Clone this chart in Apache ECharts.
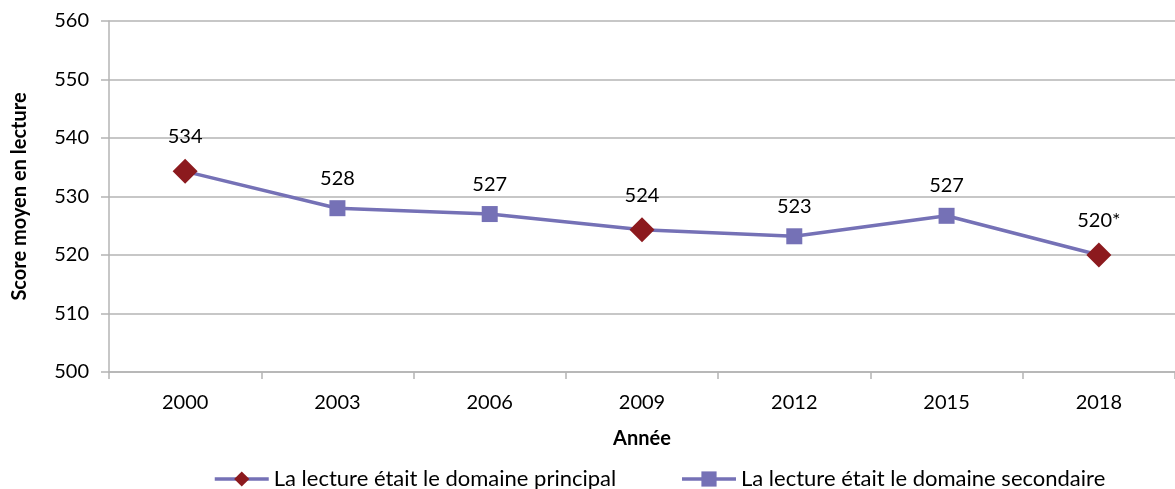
<!DOCTYPE html>
<html><head><meta charset="utf-8">
<script src="https://cdn.jsdelivr.net/npm/echarts@6/dist/echarts.min.js"></script>
<style>html,body{margin:0;padding:0;background:#fff}#c{width:1175px;height:489px}</style>
</head><body><div id="c"></div>
<script>
const years = ['2000','2003','2006','2009','2012','2015','2018'];
const scores = [534.3, 528.0, 527.0, 524.3, 523.2, 526.7, 520.0];
const labels = ['534','528','527','524','523','527','520*'];
const isPrincipal = [true, false, false, true, false, false, true];
const yTicks = [500, 510, 520, 530, 540, 550, 560];
const seriesNames = ['La lecture était le domaine principal', 'La lecture était le domaine secondaire'];

const FONT = 'Lato';
const PURPLE = '#7571B6';
const RED = '#8C1A1E';

const principalData = scores.map((v, i) => isPrincipal[i] ? v : '-');
const secondaryData = scores.map((v, i) => isPrincipal[i]
  ? { value: v, symbol: 'none', label: { show: false } }
  : v);

const chart = echarts.init(document.getElementById('c'), null, { renderer: 'canvas' });
chart.setOption({
  animation: false,
  textStyle: { fontFamily: FONT },
  grid: { left: 109, right: 0, top: 21, bottom: 117 },
  legend: {
    top: 463,
    left: 208,
    itemWidth: 54,
    itemHeight: 19,
    itemGap: 64,
    textStyle: { fontFamily: FONT, fontSize: 22, color: '#000' },
    data: [
      { name: seriesNames[0], lineStyle: { width: 3.5, color: PURPLE } },
      { name: seriesNames[1], lineStyle: { width: 3.5, color: PURPLE } }
    ]
  },
  xAxis: {
    type: 'category',
    data: years,
    boundaryGap: true,
    name: 'Année',
    nameLocation: 'middle',
    nameGap: 57,
    nameTextStyle: { fontFamily: FONT, fontSize: 20, fontWeight: 'bold', color: '#000' },
    axisLine: { lineStyle: { color: '#B4B4B4', width: 1.5 } },
    axisTick: { show: true, length: 7, lineStyle: { color: '#B4B4B4', width: 1.5 } },
    axisLabel: { fontFamily: FONT, fontSize: 20, color: '#000', margin: 21 }
  },
  yAxis: {
    type: 'value',
    min: 500, max: 560, interval: 10,
    name: 'Score moyen en lecture',
    nameLocation: 'middle',
    nameRotate: 90,
    nameGap: 79,
    nameTextStyle: { fontFamily: FONT, fontSize: 20, fontWeight: 'bold', color: '#000' },
    axisLine: { show: true, lineStyle: { color: '#B4B4B4', width: 1.5 } },
    axisTick: { show: true, length: 8, lineStyle: { color: '#B4B4B4', width: 1.5 } },
    axisLabel: { fontFamily: FONT, fontSize: 20, color: '#000', margin: 20,
      formatter: v => yTicks.includes(v) ? String(v) : '' },
    splitLine: { lineStyle: { color: '#B4B4B4', width: 1.5 } }
  },
  series: [
    {
      name: seriesNames[1],
      type: 'line',
      data: secondaryData,
      symbol: 'rect',
      symbolSize: 16,
      z: 2,
      lineStyle: { color: PURPLE, width: 3.5 },
      itemStyle: { color: PURPLE },
      label: {
        show: true, position: 'top', distance: 12,
        fontFamily: FONT, fontSize: 20, color: '#000',
        formatter: p => labels[p.dataIndex]
      }
    },
    {
      name: seriesNames[0],
      type: 'line',
      data: principalData,
      symbol: 'diamond',
      symbolSize: 25,
      connectNulls: false,
      z: 3,
      lineStyle: { color: PURPLE, width: 3.5 },
      itemStyle: { color: RED },
      label: {
        show: true, position: 'top', distance: 12,
        fontFamily: FONT, fontSize: 20, color: '#000',
        formatter: p => labels[p.dataIndex]
      }
    }
  ]
});
</script></body></html>
